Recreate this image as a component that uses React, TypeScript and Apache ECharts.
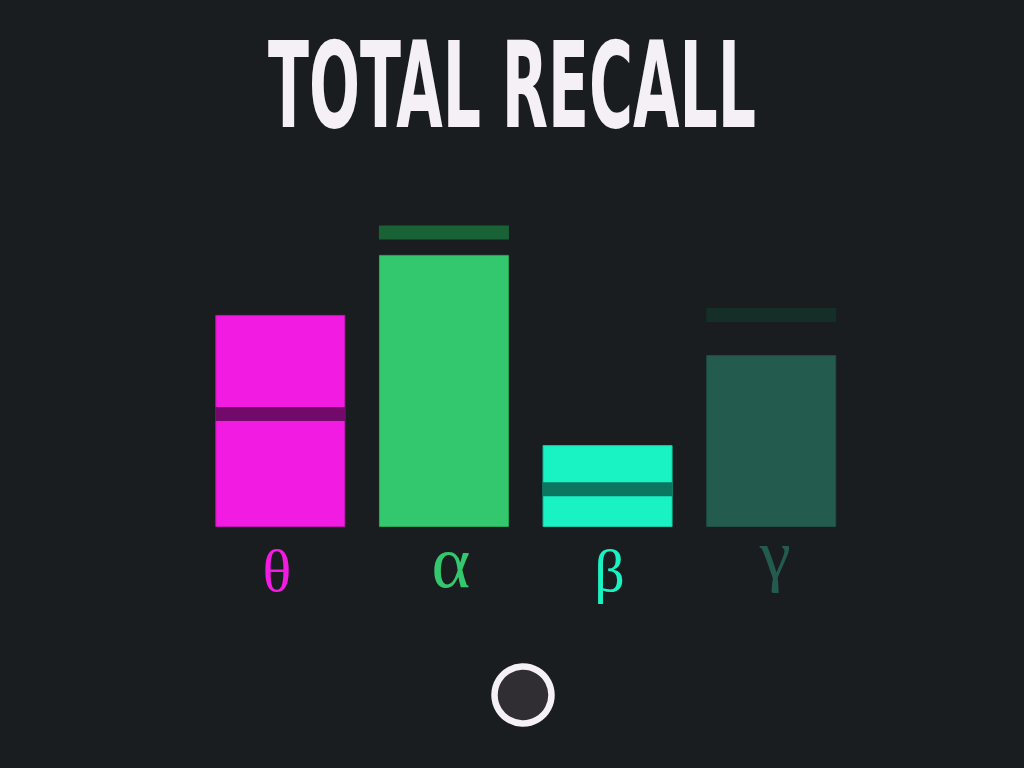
import React, { useEffect, useRef } from "react";
import * as echarts from "echarts";

const categories = ["θ", "α", "β", "γ"];
const recallValues = [70.7, 90.7, 27.3, 57.3];
const markerValues = [37.7, 98.2, 12.6, 70.7];

const barColors = ["#F11BE1", "#33C76E", "#19F2C3", "#245B4F"];
const barBorders = ["#C015B2", "#2AA55C", "#15C9A2", "#1F4E44"];
const markerColors = ["#730A6B", "#186236", "#0C7760", "#142E28"];
const labelKeys = ["t", "a", "b", "g"];
const labelSizes = [60, 74, 60, 70];
const labelWeights = ["normal", "normal", "normal", "normal"];
const labelLineHeights = [87, 70, 88, 55];
const labelPads = [
  [0, 7, 0, 0],
  [0, 0, 0, 14],
  [0, 0, 0, 4],
  [0, 0, 0, 8],
];

export default function App() {
  const ref = useRef<HTMLDivElement>(null);
  useEffect(() => {
    if (!ref.current) return;
    const chart = echarts.init(ref.current, null, { renderer: "svg" });
    const rich: any = {};
    labelKeys.forEach((k, i) => {
      rich[k] = {
        fontFamily: "Liberation Serif",
        fontWeight: labelWeights[i],
        fontSize: labelSizes[i],
        lineHeight: labelLineHeights[i],
        padding: labelPads[i],
        color: barColors[i],
      };
    });
    chart.setOption({
      animation: false,
      backgroundColor: "#1A1D20",
      grid: { left: 198.5, width: 654.5, top: 227, bottom: 241 },
      xAxis: {
        type: "category",
        data: categories,
        axisLine: { show: false },
        axisTick: { show: false },
        splitLine: { show: false },
        axisLabel: {
          margin: 0,
          formatter: (v: string, i: number) => `{${labelKeys[i]}|${v}}`,
          rich,
        },
      },
      yAxis: { type: "value", min: 0, max: 100, show: false, splitLine: { show: false } },
      series: [
        {
          type: "bar",
          barWidth: 130,
          z: 2,
          data: recallValues.map((v, i) => ({
            value: v,
            itemStyle: { color: barColors[i], borderColor: barBorders[i], borderWidth: 1 },
          })),
        },
        {
          type: "custom",
          z: 5,
          data: markerValues.map((v, i) => [i, v]),
          encode: { x: 0, y: 1 },
          renderItem: (params: any, api: any) => {
            const c = api.coord([api.value(0), api.value(1)]);
            return {
              type: "rect",
              z2: 10,
              shape: { x: c[0] - 65, y: c[1] - 7, width: 130, height: 14 },
              style: { fill: markerColors[params.dataIndex] },
            };
          },
        },
      ],
      graphic: [
        {
          type: "text",
          x: 512,
          y: 85,
          scaleY: 2,
          style: {
            text: "TOTAL RECALL",
            font: 'bold 60px "DejaVu Sans"',
            fill: "#F5F0F5",
            align: "center",
            verticalAlign: "middle",
          },
        },
        {
          type: "circle",
          shape: { cx: 523, cy: 695, r: 28.5 },
          style: { fill: "#302D33", stroke: "#F5F0F5", lineWidth: 6.5 },
        },
      ],
    });
    return () => chart.dispose();
  }, []);
  return (
    <div
      ref={ref}
      style={{ position: "fixed", left: 0, top: 0, width: 1024, height: 768 }}
    />
  );
}
